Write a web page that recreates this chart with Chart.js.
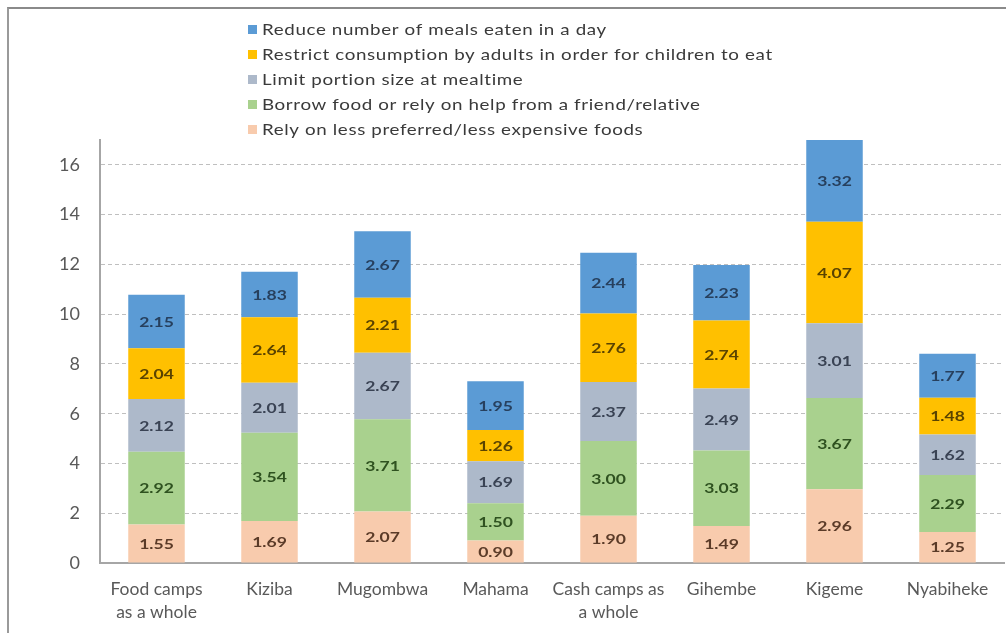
<!DOCTYPE html>
<html>
<head>
<meta charset="utf-8">
<script src="https://cdn.jsdelivr.net/npm/chart.js@4/dist/chart.umd.min.js"></script>
<style>
  html, body { margin: 0; padding: 0; background: #fff; }
  #wrap { position: relative; width: 1006px; height: 633px; overflow: hidden; }
  #frame { position: absolute; left: 7px; top: 7px; width: 1100px; height: 700px;
           border-left: 2px solid #9a9a9a; border-top: 2px solid #8a8a8a; pointer-events: none; }
  canvas { position: absolute; left: 0; top: 0; }
</style>
</head>
<body>
<div id="wrap">
  <canvas id="c" width="1006" height="633"></canvas>
  <div id="frame"></div>
</div>
<script>
// Coping strategies by camp (stacked, bottom to top)
const categories = [
  ["Food camps", "as a whole"], "Kiziba", "Mugombwa", "Mahama",
  ["Cash camps as", "a whole"], "Gihembe", "Kigeme", "Nyabiheke"
];
const seriesNames = [
  "Rely on less preferred/less expensive foods",
  "Borrow food or rely on help from a friend/relative",
  "Limit portion size at mealtime",
  "Restrict consumption by adults in order for children to eat",
  "Reduce number of meals eaten in a day"
];
const relyLessPreferred = [1.55, 1.69, 2.07, 0.90, 1.90, 1.49, 2.96, 1.25];
const borrowFood        = [2.92, 3.54, 3.71, 1.50, 3.00, 3.03, 3.67, 2.29];
const limitPortion      = [2.12, 2.01, 2.67, 1.69, 2.37, 2.49, 3.01, 1.62];
const restrictAdults    = [2.04, 2.64, 2.21, 1.26, 2.76, 2.74, 4.07, 1.48];
const reduceMeals       = [2.15, 1.83, 2.67, 1.95, 2.44, 2.23, 3.32, 1.77];
const yTicks = [0, 2, 4, 6, 8, 10, 12, 14, 16];

const fills  = ["#f8cbad", "#a9d18e", "#adb9ca", "#ffc000", "#5b9bd5"];
const inkCol = ["#5b3b28", "#2f5220", "#3a4354", "#5a4300", "#27405e"];
const FONT = "Lato, 'Liberation Sans', sans-serif";

const seriesValues = [relyLessPreferred, borrowFood, limitPortion, restrictAdults, reduceMeals];

const datasets = seriesValues.map((vals, i) => ({
  label: seriesNames[i],
  data: vals,
  backgroundColor: fills[i],
  borderWidth: 0,
  barPercentage: 0.5,
  categoryPercentage: 1.0
}));

// Value labels in the middle of each segment (wide glyphs)
const segmentLabels = {
  id: "segmentLabels",
  afterDatasetsDraw(chart) {
    const ctx = chart.ctx;
    chart.data.datasets.forEach((ds, di) => {
      const meta = chart.getDatasetMeta(di);
      meta.data.forEach((bar, j) => {
        const c = bar.getCenterPoint();
        ctx.save();
        ctx.translate(c.x, c.y + 1);
        ctx.scale(1.35, 1);
        ctx.font = "bold 13px " + FONT;
        ctx.textAlign = "center";
        ctx.textBaseline = "middle";
        ctx.fillStyle = inkCol[di];
        ctx.fillText(ds.data[j].toFixed(2), 0, 0);
        ctx.restore();
      });
    });
  }
};

// Vertical legend, top series listed first; glyphs drawn slightly wide
const stackLegend = {
  id: "stackLegend",
  afterDraw(chart) {
    const ctx = chart.ctx;
    const n = chart.data.datasets.length;
    for (let k = 0; k < n; k++) {
      const di = n - 1 - k;
      const ds = chart.data.datasets[di];
      const y = 30 + k * 25;
      ctx.save();
      ctx.fillStyle = ds.backgroundColor;
      ctx.fillRect(248, y - 5, 9, 9);
      ctx.translate(262, y);
      ctx.scale(1.25, 1);
      ctx.font = "15px " + FONT;
      ctx.letterSpacing = "0.5px";
      ctx.textBaseline = "middle";
      ctx.fillStyle = "#3a3a3a";
      ctx.fillText(ds.label, 0, 0);
      ctx.restore();
    }
  }
};

new Chart(document.getElementById("c"), {
  type: "bar",
  data: { labels: categories, datasets },
  options: {
    responsive: false,
    animation: false,
    layout: { padding: { top: 140, left: 0, right: 2, bottom: 0 } },
    plugins: { legend: { display: false }, tooltip: { enabled: false } },
    scales: {
      x: {
        stacked: true,
        grid: { display: false, drawTicks: false },
        border: { color: "#a6a6a6", width: 2 },
        ticks: { color: "#595959", font: { family: FONT, size: 17.5, lineHeight: 1.31 }, padding: 15, maxRotation: 0, autoSkip: false },
        afterFit(scale) { scale.height = 70; }
      },
      y: {
        stacked: true,
        min: 0,
        max: 17,
        afterBuildTicks(scale) { scale.ticks = yTicks.map(v => ({ value: v })); },
        grid: { color: "#bfbfbf", lineWidth: 1, drawTicks: false },
        border: { color: "#a6a6a6", width: 2, dash: [4, 3] },
        ticks: { color: "#595959", font: { family: FONT, size: 18 }, padding: 20 },
        afterFit(scale) { scale.width = 100; }
      }
    }
  },
  plugins: [segmentLabels, stackLegend]
});
</script>
</body>
</html>
